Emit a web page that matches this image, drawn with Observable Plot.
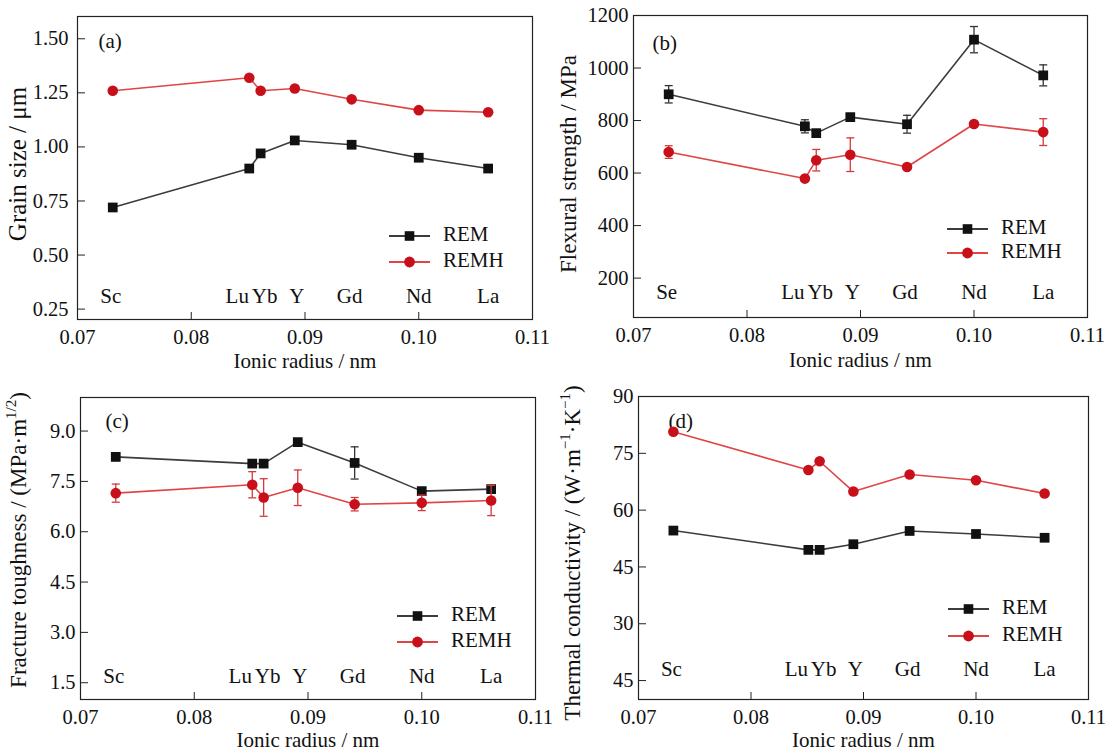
<!DOCTYPE html>
<html><head><meta charset="utf-8">
<script src="https://cdn.jsdelivr.net/npm/d3@7"></script>
<script src="https://cdn.jsdelivr.net/npm/@observablehq/plot@0.6"></script>
<style>
body{margin:0;background:#fff;}
#wrap{position:relative;width:1107px;height:755px;background:#fff;font-family:"Liberation Serif","Times New Roman",serif;}
#wrap svg{position:absolute;overflow:visible;}
</style></head><body><div id="wrap"></div>
<script>
// ---- data ----
const elements = ["Sc","Lu","Yb","Y","Gd","Nd","La"];
const elementsB = ["Se","Lu","Yb","Y","Gd","Nd","La"];
const radius = [0.0731,0.0851,0.0861,0.0891,0.0941,0.1000,0.1061];
const xTicks = [0.07,0.08,0.09,0.10,0.11];
const seriesNames = ["REM","REMH"];

const grainREM  = [0.72,0.90,0.97,1.03,1.01,0.95,0.90];
const grainREMH = [1.26,1.32,1.26,1.27,1.22,1.17,1.16];
const grainTicks = [0.25,0.50,0.75,1.00,1.25,1.50];

const flexREM     = [900,778,752,813,786,1108,972];
const flexREMErr  = [33,25,12,10,34,50,40];
const flexREMH    = [680,579,649,670,623,787,756];
const flexREMHErr = [24,8,41,64,5,5,51];
const flexTicks = [200,400,600,800,1000,1200];

const toughREM     = [8.23,8.03,8.03,8.67,8.05,7.21,7.27];
const toughREMErr  = [0.04,0.04,0.05,0.04,0.48,0.05,0.10];
const toughREMH    = [7.15,7.40,7.02,7.31,6.82,6.86,6.93];
const toughREMHErr = [0.27,0.39,0.56,0.53,0.20,0.23,0.45];
const toughTicks = [1.5,3.0,4.5,6.0,7.5,9.0];

const thermREM  = [54.6,49.5,49.5,51.0,54.5,53.7,52.7];
const thermREMH = [80.7,70.6,72.9,64.9,69.4,67.9,64.4];
const thermTicks = [15,30,45,60,75,90];
const thermTickLabels = ["45","30","45","60","75","90"];

// ---- styles ----
const FONT = '"Liberation Serif","Times New Roman",serif';
const BLACK_LINE = "#3c3c3c", BLACK_MARK = "#111111";
const RED_LINE = "#e04545", RED_MARK = "#c8101a";
const labelShift = {Sc:-2, Lu:-12, Yb:4, Y:2, Gd:-2, Nd:0, La:0, Se:-2};

const capSymbol = {draw(ctx){ ctx.moveTo(-4,0); ctx.lineTo(4,0); }};

function buildPanel(cfg){
  const plotW = cfg.width - cfg.mL - cfg.mR;
  const plotH = cfg.height - cfg.mT - cfg.mB;
  const rows = (vals, errs) => radius.map((x,i)=>({x, v: vals[i], e: errs ? errs[i] : 0, label: cfg.labels[i]}));
  const rem = rows(cfg.rem, cfg.remErr), remh = rows(cfg.remh, cfg.remhErr);
  const marks = [
    Plot.frame({stroke:"#222", strokeWidth:1.2}),
    Plot.tickX(xTicks, {x:d=>d, insetTop: plotH - 7, stroke:"#222"}),
    Plot.tickY(cfg.yTicks, {y:d=>d, insetRight: plotW - 8, stroke:"#222"}),
    Plot.axisX({ticks: xTicks, tickSize:0, tickPadding: 10, tickFormat: d3.format(".2f"), fontSize: 20.5, label: null}),
    Plot.axisY({ticks: cfg.yTicks, tickSize:0, tickPadding: cfg.yPad, tickFormat: cfg.yFormat, fontSize: 20.5, label: null}),
    Plot.text(["Ionic radius / nm"], {frameAnchor:"bottom", dy: cfg.xTitleDy, fontSize: 21}),
    Plot.text([cfg.tag], {frameAnchor:"top-left", dx: cfg.tagDx, dy: cfg.tagDy, textAnchor:"start", fontSize: 21})
  ];
  for (const r of rem) {
    marks.push(Plot.text([r], {x:"x", text:"label", frameAnchor:"bottom", dy: -cfg.elemDy, dx: labelShift[r.label] || 0, fontSize: 21}));
  }
  const series = [
    {data: rem, line: BLACK_LINE, mark: BLACK_MARK, err: "#333", symbol:"square", r:5.5},
    {data: remh, line: RED_LINE, mark: RED_MARK, err: "#d43a3a", symbol:"circle", r:5.3}
  ];
  for (const s of series) {
    marks.push(Plot.line(s.data, {x:"x", y:"v", stroke: s.line, strokeWidth:1.6}));
    const withErr = s.data.filter(d=>d.e>0);
    if (withErr.length) {
      marks.push(Plot.ruleX(withErr, {x:"x", y1:d=>d.v-d.e, y2:d=>d.v+d.e, stroke:s.err, strokeWidth:1.3}));
      marks.push(Plot.dot(withErr, {x:"x", y:d=>d.v+d.e, symbol: capSymbol, stroke:s.err, fill:"none", strokeWidth:1.3}));
      marks.push(Plot.dot(withErr, {x:"x", y:d=>d.v-d.e, symbol: capSymbol, stroke:s.err, fill:"none", strokeWidth:1.3}));
    }
    marks.push(Plot.dot(s.data, {x:"x", y:"v", symbol: s.symbol, r: s.r, fill: s.mark, stroke:"none"}));
  }
  const svg = Plot.plot({
    width: cfg.width, height: cfg.height,
    marginLeft: cfg.mL, marginRight: cfg.mR, marginTop: cfg.mT, marginBottom: cfg.mB,
    x: {domain:[0.07,0.11]},
    y: {domain: cfg.yDomain},
    style: {fontFamily: FONT, fontSize:"21px", color:"#111", background:"transparent", overflow:"visible"},
    marks
  });
  svg.style.left = cfg.left + "px";
  svg.style.top = cfg.top + "px";
  const sel = d3.select(svg);
  // y title with rich text (superscripts)
  const yt = sel.append("text")
    .attr("transform", `translate(${cfg.yTitleX},${cfg.yTitleY}) rotate(-90)`)
    .attr("text-anchor","middle").attr("dominant-baseline","middle")
    .attr("font-family", FONT).attr("font-size", cfg.yTitleSize).attr("fill","#111");
  let raised = false;
  for (const part of cfg.yTitle) {
    if (typeof part === "string") {
      const t = yt.append("tspan").text(part);
      if (raised) { t.attr("dy", 8); raised = false; }
    } else {
      yt.append("tspan").attr("dy", raised ? 0 : -8).attr("font-size", 15).text(part.sup);
      raised = true;
    }
  }
  // legend
  const fx = cfg.mL + plotW, fy = cfg.mT + plotH;
  series.forEach((s, i) => {
    const g = sel.append("g").attr("transform", `translate(${fx + cfg.legX},${fy + cfg.legY[i]})`);
    g.append("line").attr("x1",0).attr("x2",41).attr("y1",0).attr("y2",0).attr("stroke", s.line).attr("stroke-width",1.8);
    if (s.symbol === "square") g.append("rect").attr("x",20.5-4.8).attr("y",-4.8).attr("width",9.6).attr("height",9.6).attr("fill", s.mark);
    else g.append("circle").attr("cx",20.5).attr("cy",0).attr("r",5.4).attr("fill", s.mark);
    g.append("text").attr("x",54).attr("y",0).attr("dominant-baseline","middle").attr("text-anchor","start")
      .attr("font-family",FONT).attr("font-size",21).attr("fill","#111").text(seriesNames[i]);
  });
  document.getElementById("wrap").appendChild(svg);
}

buildPanel({
  left:0, top:0, width:553, height:378, mL:77, mR:21, mT:16, mB:59,
  yDomain:[0.202,1.603], yTicks:grainTicks, yFormat:d3.format(".2f"), yPad:9,
  rem:grainREM, remh:grainREMH, labels:elements, tag:"(a)", tagDx:21, tagDy:17,
  elemDy:17, xTitleDy:48, yTitleX:20, yTitleY:164, yTitleSize:25,
  yTitle:["Grain size / μm"], legX:-143, legY:[-83,-57]
});
buildPanel({
  left:553, top:0, width:554, height:378, mL:80, mR:20, mT:15, mB:61,
  yDomain:[50,1200], yTicks:flexTicks, yFormat:d3.format("d"), yPad:5,
  rem:flexREM, remErr:flexREMErr, remh:flexREMH, remhErr:flexREMHErr, labels:elementsB, tag:"(b)", tagDx:19, tagDy:20,
  elemDy:19, xTitleDy:49, yTitleX:18, yTitleY:164, yTitleSize:23,
  yTitle:["Flexural strength / MPa"], legX:-140, legY:[-88,-64]
});
buildPanel({
  left:0, top:378, width:553, height:377, mL:80, mR:18, mT:19, mB:56,
  yDomain:[1.0,10.0], yTicks:toughTicks, yFormat:d3.format(".1f"), yPad:5,
  rem:toughREM, remErr:toughREMErr, remh:toughREMH, remhErr:toughREMHErr, labels:elements, tag:"(c)", tagDx:25, tagDy:16,
  elemDy:17, xTitleDy:47, yTitleX:21, yTitleY:162, yTitleSize:23,
  yTitle:["Fracture toughness / (MPa·m", {sup:"1/2"}, ")"], legX:-138, legY:[-83,-57]
});
buildPanel({
  left:553, top:378, width:554, height:377, mL:85, mR:19, mT:18, mB:56,
  yDomain:[10,90], yTicks:thermTicks, yFormat:d=>thermTickLabels[thermTicks.indexOf(d)], yPad:5,
  rem:thermREM, remh:thermREMH, labels:elements, tag:"(d)", tagDx:30, tagDy:17,
  elemDy:24, xTitleDy:47, yTitleX:22, yTitleY:175, yTitleSize:23,
  yTitle:["Thermal conductivity / (W·m", {sup:"−1"}, "·K", {sup:"−1"}, ")"], legX:-140, legY:[-90,-63]
});
</script></body></html>
